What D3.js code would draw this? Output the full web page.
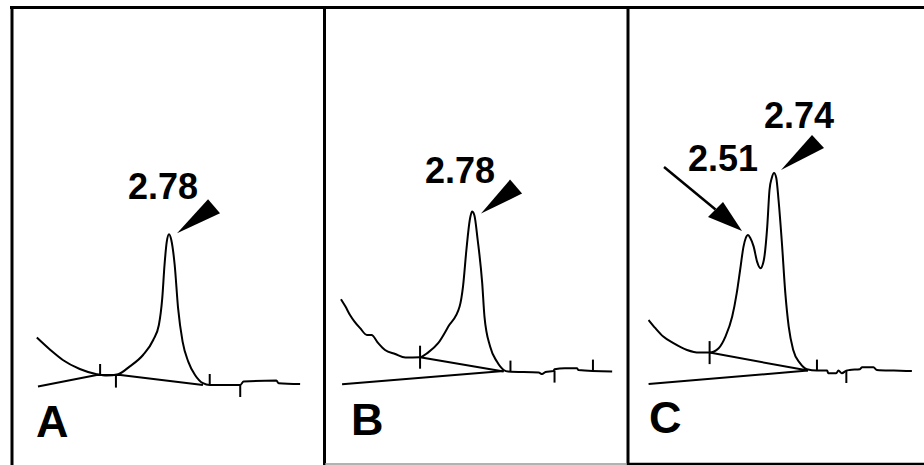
<!DOCTYPE html>
<meta charset="utf-8">
<style>
	body {
		margin: 0;
		background: #fff;
	}

	.trace {
		fill: none;
		stroke: #000;
		stroke-width: 2;
		stroke-linejoin: round;
	}

	.base, .tick {
		stroke: #000;
		stroke-width: 2;
	}

	.frame {
		stroke: #000;
	}

	.rt {
		font-family: "Liberation Sans", Arial, Helvetica, sans-serif;
		font-weight: bold;
		font-size: 36px;
	}

	.letter {
		font-family: "Liberation Sans", Arial, Helvetica, sans-serif;
		font-weight: bold;
		font-size: 45px;
	}
</style>
<script src="https://cdn.jsdelivr.net/npm/d3@7"></script>

<body>
	<div id="chart"></div>

	<script>
		// chromatogram readings: [retention time (min), signal]
		const traceA = [
			[1.61, 28.7], [1.73, 22.5], [1.84, 17.5], [1.99, 13], [2.14, 10.4], [2.23, 9.7],
			[2.33, 10.4], [2.43, 14.2], [2.55, 20], [2.64, 27.5], [2.69, 35], [2.72, 48.4],
			[2.74, 65], [2.76, 76.7], [2.78, 80.4], [2.80, 77.5], [2.83, 65], [2.86, 43.4],
			[2.90, 26.7], [2.95, 16.7], [3.01, 10], [3.08, 5.9], [3.14, 5], [3.41, 5],
			[3.44, 6.7], [3.73, 7.2], [3.75, 5.9], [3.94, 5.5]
		];
		const traceB = [
			[1.62, 47.9], [1.66, 44.2], [1.70, 40], [1.74, 36.7], [1.79, 33.4], [1.85, 30],
			[1.89, 30], [1.95, 25.9], [2.01, 22.5], [2.10, 20.5], [2.19, 18.7], [2.32, 18.9],
			[2.39, 21.2], [2.48, 25.9], [2.57, 34.2], [2.67, 44.2], [2.70, 54.2], [2.73, 72.5],
			[2.76, 87.5], [2.78, 91.7], [2.80, 90], [2.83, 77.5], [2.87, 55.9], [2.89, 39.2],
			[2.94, 24.2], [3.00, 16.7], [3.06, 12.5], [3.10, 11.7], [3.37, 11.2], [3.40, 10.5],
			[3.43, 11.5], [3.50, 12], [3.51, 12.9], [3.60, 13.4], [3.71, 13.4], [3.72, 12.5],
			[4.02, 11.7]
		];
		const traceC = [
			[1.63, 37.5], [1.69, 33.4], [1.76, 29.2], [1.85, 25.9], [1.97, 22.5], [2.08, 21.2],
			[2.17, 21.2], [2.25, 23.4], [2.31, 29.2], [2.37, 39.2], [2.41, 50.9], [2.44, 62.5],
			[2.47, 74.2], [2.49, 78.5], [2.51, 80], [2.53, 78.5], [2.56, 74.2], [2.59, 66.7],
			[2.62, 63.4], [2.65, 67.5], [2.68, 84.2], [2.70, 102.5], [2.72, 108.5], [2.74, 111],
			[2.76, 108.5], [2.78, 97.5], [2.81, 75.9], [2.84, 50.9], [2.87, 34.2], [2.91, 22.5],
			[2.97, 15.9], [3.03, 12.9], [3.12, 12.2], [3.21, 12.2], [3.22, 10.9], [3.29, 10.9],
			[3.31, 12.2], [3.34, 10.9], [3.38, 12.2], [3.41, 12.5], [3.50, 12.9], [3.52, 13.9],
			[3.62, 13.9], [3.65, 12.5], [3.80, 12.2], [3.96, 12]
		];

		// integrator baselines and drop lines
		const baselineA = [[1.62, 4.2], [2.14, 10], [2.35, 10], [3.08, 5]];
		const baselineB = [[1.63, 5.4], [3.06, 12]];
		const dropB = [[2.32, 18.9], [3.06, 11.7]];
		const baselineC = [[1.63, 5.5], [3.04, 12.2]];
		const dropC = [[2.17, 21.2], [3.04, 12.2]];

		// integration marks: time, signal, kind
		const marksA = [[2.17, 10, "up"], [2.31, 9.7, "down"], [3.14, 5, "up"], [3.41, 5, "down"]];
		const marksB = [[2.32, 18.9, "cross"], [3.12, 11.7, "up"], [3.51, 12.2, "down"], [3.85, 12.2, "up"]];
		const marksC = [[2.17, 21.2, "cross"], [3.12, 12.2, "up"], [3.38, 12, "down"]];

		// labelled peaks
		const peaksA = [["2.78", 2.78, 80.4]];
		const peaksB = [["2.78", 2.78, 91.7]];
		const peaksC = [["2.51", 2.51, 80], ["2.74", 2.74, 111]];

		const panelLetters = ["A", "B", "C"];

		let width = 924, height = 465;

		let svg = d3.select("#chart")
			.append("svg")
			.attr("width", width)
			.attr("height", height)
			.style("display", "block");

		svg.append("rect").attr("width", width).attr("height", height).attr("fill", "#fff");

		// where each panel's time axis starts (px)
		const panelX0 = [24.4, 327.4, 633.9];
		const letterPos = [[36, 437], [351, 435], [649, 433]];

		let y = d3.scaleLinear().domain([0, 120]).range([395, 155]);

		// arrow geometry relative to the peak apex
		const arrowStyle = {
			"A2.78": { label: [-41, -35], tip: [8, -1], head: [[39, -35], [51, -21]] },
			"B2.78": { label: [-47, -29], tip: [9, 2], head: [[38, -32], [50, -18]] },
			"C2.74": { label: [-10, -45], tip: [7, -3], head: [[38, -38], [50, -25]] },
			"C2.51": { label: [-60, -64], tip: [-6, -4], head: [[-40, -18], [-25, -33]], tail: [-84, -68] }
		};

		let panels = [
			{ trace: traceA, base: [baselineA], marks: marksA, peaks: peaksA },
			{ trace: traceB, base: [baselineB, dropB], marks: marksB, peaks: peaksB },
			{ trace: traceC, base: [baselineC, dropC], marks: marksC, peaks: peaksC }
		];

		panels.forEach(function (p, i) {
			let x = d3.scaleLinear().domain([1.5, 4.1]).range([panelX0[i], panelX0[i] + 2.6 * 113]);
			let g = svg.append("g");

			let line = d3.line().x(d => x(d[0])).y(d => y(d[1]));

			p.base.forEach(function (b) {
				g.append("path").attr("class", "trace").attr("d", line(b));
			});

			g.append("path")
				.attr("class", "trace")
				.attr("d", line.curve(d3.curveMonotoneX)(p.trace));

			g.selectAll("line.tick")
				.data(p.marks)
				.join("line")
				.attr("class", "tick")
				.attr("x1", d => x(d[0]))
				.attr("x2", d => x(d[0]))
				.attr("y1", d => d[2] == "down" ? y(d[1]) : y(d[1]) - (d[2] == "cross" ? 11.5 : 11))
				.attr("y2", d => d[2] == "up" ? y(d[1]) : y(d[1]) + (d[2] == "cross" ? 11.5 : 12));

			p.peaks.forEach(function (pk) {
				let s = arrowStyle[panelLetters[i] + pk[0]];
				let px = x(pk[1]), py = y(pk[2]);
				g.append("text")
					.attr("class", "rt")
					.attr("x", px + s.label[0])
					.attr("y", py + s.label[1])
					.text(pk[0]);
				let pts = [s.tip, s.head[0], s.head[1]].map(o => [px + o[0], py + o[1]]);
				g.append("path")
					.attr("d", "M" + pts.join("L") + "Z")
					.attr("fill", "#000");
				if (s.tail) {
					let mx = (s.head[0][0] + s.head[1][0]) / 2, my = (s.head[0][1] + s.head[1][1]) / 2;
					g.append("line")
						.attr("x1", px + s.tail[0]).attr("y1", py + s.tail[1])
						.attr("x2", px + mx).attr("y2", py + my)
						.attr("stroke", "#000")
						.attr("stroke-width", 2.5);
				}
			});

			g.append("text")
				.attr("class", "letter")
				.attr("x", letterPos[i][0])
				.attr("y", letterPos[i][1])
				.text(panelLetters[i]);
		});

		// panel frame
		let frame = svg.append("g").attr("class", "frame");
		frame.append("line").attr("x1", 10).attr("x2", 924).attr("y1", 7.5).attr("y2", 7.5).attr("stroke-width", 3);
		[12, 324.5, 628].forEach(function (fx) {
			frame.append("line").attr("x1", fx).attr("x2", fx).attr("y1", 6).attr("y2", 465).attr("stroke-width", 3);
		});
		frame.append("line").attr("x1", 325).attr("x2", 627).attr("y1", 464).attr("y2", 464)
			.attr("stroke", "#999").attr("stroke-width", 1.5);
		frame.append("line").attr("x1", 627).attr("x2", 924).attr("y1", 464).attr("y2", 464).attr("stroke-width", 2.5);
	</script>
</body>
